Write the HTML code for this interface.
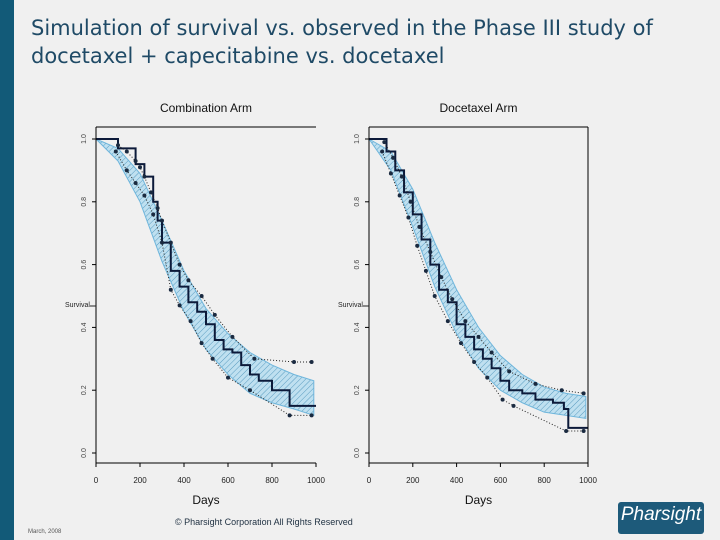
<!DOCTYPE html>
<html><head><meta charset="utf-8"><style>
body{margin:0;width:720px;height:540px;background:#f0f0f0;overflow:hidden;position:relative;font-family:"Liberation Sans",sans-serif}
.strip{position:absolute;left:0;top:0;width:14px;height:540px;background:#125a78}
.title{position:absolute;left:31px;top:14px;font-family:"DejaVu Sans",sans-serif;font-size:21px;line-height:28px;color:#1f4a66;letter-spacing:0px}
.copy{position:absolute;left:175px;top:517px;font-size:9px;color:#234}
.date{position:absolute;left:28px;top:529px;font-size:6px;color:#555}
.logo{position:absolute;left:618px;top:502px;width:86px;height:32px;background:#1d5a7a;border-radius:3px;color:#fff;font-style:italic;font-size:19px;line-height:26px;text-align:center}
</style></head><body>
<div class="strip"></div>
<div class="title">Simulation of survival vs. observed in the Phase III study of<br>docetaxel + capecitabine vs. docetaxel</div>
<svg id="chart" width="720" height="540" style="position:absolute;left:0;top:0">
<defs><pattern id="hatch" width="4" height="4" patternUnits="userSpaceOnUse" patternTransform="rotate(45)"><rect width="4" height="4" fill="#bfe0f0"/><line x1="0" y1="0" x2="0" y2="4" stroke="#5a9cc0" stroke-width="1"/></pattern></defs>
</svg>
<div class="copy">© Pharsight Corporation All Rights Reserved</div>
<div class="date">March, 2008</div>
<div class="logo">Pharsight</div>
<script>
const bandDays=[0,100,200,300,400,500,600,700,800,900,990];
const comboUpper=[1.0,0.97,0.89,0.74,0.58,0.46,0.38,0.32,0.28,0.25,0.23];
const comboLower=[1.0,0.93,0.80,0.61,0.45,0.33,0.25,0.19,0.16,0.14,0.12];
const comboKmT=[0,70,100,180,220,260,280,300,340,380,420,460,500,540,580,620,660,700,740,800,880,1000];
const comboKmS=[1,1,0.97,0.92,0.88,0.80,0.74,0.67,0.58,0.53,0.48,0.45,0.41,0.36,0.33,0.32,0.28,0.25,0.23,0.20,0.15,0.15];
const comboObsHiT=[100,140,180,200,220,250,280,300,340,380,420,480,540,620,720,900,980];
const comboObsHiS=[0.98,0.96,0.93,0.91,0.88,0.83,0.78,0.74,0.67,0.60,0.55,0.50,0.44,0.37,0.30,0.29,0.29];
const comboObsLoT=[90,140,180,220,260,300,340,380,430,480,530,600,700,880,980];
const comboObsLoS=[0.96,0.90,0.86,0.82,0.76,0.67,0.52,0.47,0.42,0.35,0.30,0.24,0.20,0.12,0.12];
const docUpper=[1.0,0.96,0.84,0.67,0.52,0.40,0.31,0.25,0.21,0.19,0.18];
const docLower=[1.0,0.90,0.72,0.53,0.38,0.27,0.20,0.16,0.13,0.12,0.11];
const docKmT=[0,50,80,120,160,200,240,280,320,360,400,440,480,520,560,600,640,700,760,840,890,910,1000];
const docKmS=[1,1,0.96,0.90,0.83,0.76,0.68,0.60,0.52,0.48,0.41,0.37,0.33,0.30,0.27,0.23,0.20,0.19,0.17,0.16,0.14,0.08,0.08];
const docObsHiT=[70,110,150,190,230,280,330,380,440,500,560,640,760,880,980];
const docObsHiS=[0.99,0.94,0.88,0.80,0.72,0.64,0.56,0.49,0.42,0.37,0.32,0.26,0.22,0.20,0.19];
const docObsLoT=[60,100,140,180,220,260,300,360,420,480,540,610,660,900,980];
const docObsLoS=[0.96,0.89,0.82,0.75,0.66,0.58,0.50,0.42,0.35,0.29,0.24,0.17,0.15,0.07,0.07];
const yTicks=[0,0.2,0.4,0.6,0.8,1.0];
const xTicks=[0,200,400,600,800,1000];
const svg=document.getElementById('chart');
const NS='http://www.w3.org/2000/svg';
function mk(tag,attrs,parent){const e=document.createElementNS(NS,tag);for(const k in attrs)e.setAttribute(k,attrs[k]);(parent||svg).appendChild(e);return e;}
function panel(x0,x1,title,up,lo,kmT,kmS,hiT,hiS,loT,loS,pid,rightBox){
 const y1=139,y0=453;
 const X=d=>x0+d/1000*(x1-x0), Y=s=>y0-s*(y0-y1);
 const g=mk('g',{});
 
 
 let pts=bandDays.map((d,i)=>X(d)+','+Y(up[i]));
 pts=pts.concat(bandDays.slice().reverse().map((d,i)=>X(d)+','+Y(lo[lo.length-1-i])));
 const band=mk('polygon',{points:pts.join(' '),fill:'url(#hatch)',stroke:'#6fb6dc','stroke-width':1},g);
 
 
 let d='M'+X(kmT[0])+','+Y(kmS[0]);
 for(let i=1;i<kmT.length;i++){d+=' H'+X(kmT[i])+' V'+Y(kmS[i]);}
 const km=mk('path',{d:d,fill:'none',stroke:'#0c1a3a','stroke-width':2},g);
 
 
 [[hiT,hiS],[loT,loS]].forEach((s,j)=>{
  let pd='M'+X(s[0][0])+','+Y(s[1][0]);
  for(let i=1;i<s[0].length;i++)pd+=' L'+X(s[0][i])+','+Y(s[1][i]);
  const l=mk('path',{d:pd,fill:'none',stroke:'#222','stroke-width':1,'stroke-dasharray':'1,2'},g);
  
  
  s[0].forEach((t,i)=>{const c=mk('circle',{cx:X(t),cy:Y(s[1][i]),r:2,fill:'#1a2a40'},g);
   
   });
 });
 mk('line',{x1:x0,y1:127,x2:x0,y2:463,stroke:'#000','stroke-width':1},g);
 mk('line',{x1:x0,y1:463,x2:x1,y2:463,stroke:'#000','stroke-width':1},g);
 mk('line',{x1:x0,y1:127,x2:x1,y2:127,stroke:'#000','stroke-width':1},g);
 if(rightBox)mk('line',{x1:x1,y1:127,x2:x1,y2:463,stroke:'#000','stroke-width':1},g);
 xTicks.forEach(t=>{mk('line',{x1:X(t),y1:463,x2:X(t),y2:467,stroke:'#000'},g);
  const tx=mk('text',{x:X(t),y:483,'font-size':8,'text-anchor':'middle',fill:'#222'},g);tx.textContent=t;
  
  });
 yTicks.forEach(t=>{mk('line',{x1:x0-4,y1:Y(t),x2:x0,y2:Y(t),stroke:'#000'},g);
  const tx=mk('text',{x:x0-10,y:Y(t),'font-size':7,'text-anchor':'middle',fill:'#444',transform:'rotate(-90 '+(x0-10)+' '+Y(t)+')'},g);tx.textContent=t.toFixed(1);
  
  });
 const yl=mk('text',{x:x0-31,y:307,'font-size':7,fill:'#222'},g);yl.textContent='Survival';
 
 
 mk('line',{x1:x0-6,y1:306,x2:x0,y2:306,stroke:'#222'},g);
 const tt=mk('text',{x:(x0+x1)/2,y:112,'font-size':12,'text-anchor':'middle',fill:'#111'},g);tt.textContent=title;
 
 
 const xl=mk('text',{x:(x0+x1)/2,y:504,'font-size':12,'text-anchor':'middle',fill:'#111'},g);xl.textContent='Days';
 
 
}
panel(96,316,'Combination Arm',comboUpper,comboLower,comboKmT,comboKmS,comboObsHiT,comboObsHiS,comboObsLoT,comboObsLoS,'combination',false);
panel(369,588,'Docetaxel Arm',docUpper,docLower,docKmT,docKmS,docObsHiT,docObsHiS,docObsLoT,docObsLoS,'docetaxel',true);
</script>
</body></html>
